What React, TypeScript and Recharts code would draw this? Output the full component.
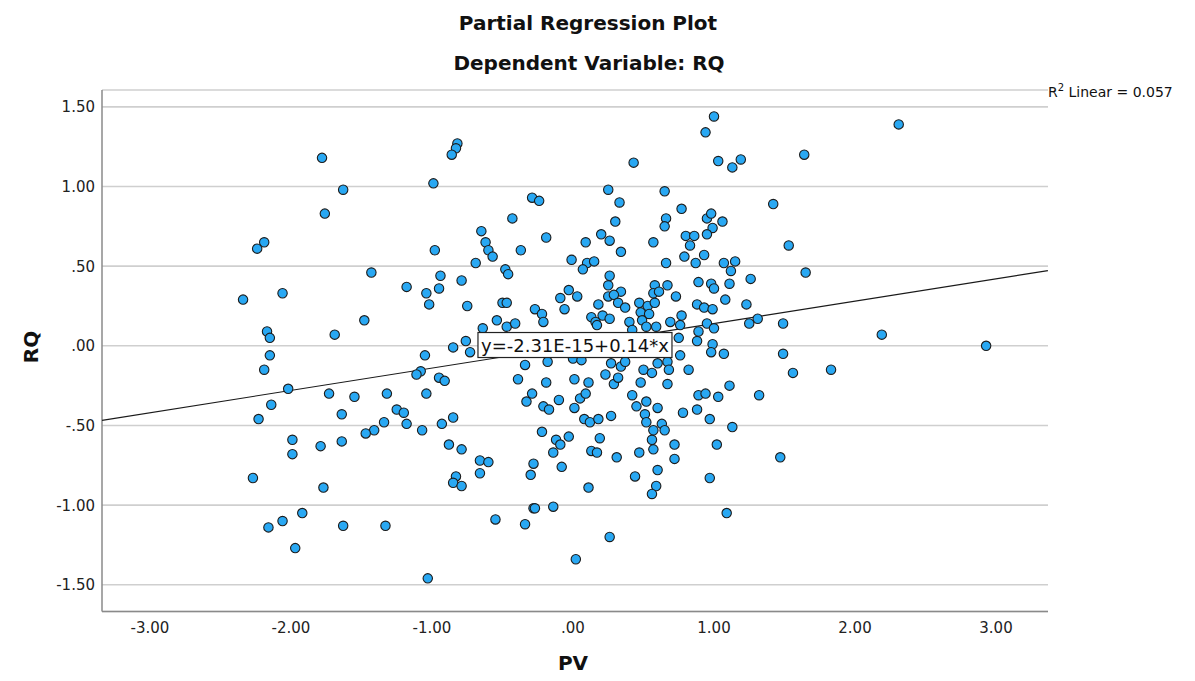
import React from "react";
import { ScatterChart, Scatter, XAxis, YAxis, CartesianGrid } from "recharts";

// PV (x) and RQ (y) partial residuals
const pvValues = [
  -1.78, -1.63, -1.76, -2.19, -2.24, -2.34, -2.06, -2.17, -2.15, -1.69,
  -2.15, -2.19, -2.02, -1.73, -2.14, -2.23, -1.64, -1.99, -1.99, -1.79,
  -1.64, -2.27, -1.77, -1.92, -2.06, -2.16, -1.97, -1.63, -0.82, -0.83,
  -0.86, -0.99, -0.65, -0.62, -0.60, -0.57, -0.98, -0.69, -0.48, -0.46,
  -1.43, -1.18, -0.94, -0.95, -1.04, -1.02, -0.79, -0.75, -0.50, -0.47,
  -1.48, -0.54, -0.64, -0.76, -0.85, -0.73, -1.05, -1.08, -1.11, -0.95,
  -0.91, -1.55, -1.32, -1.04, -1.25, -1.20, -1.34, -1.18, -1.41, -1.47,
  -1.07, -0.93, -0.85, -0.88, -0.79, -0.66, -0.60, -0.66, -0.83, -0.85,
  -0.79, -1.33, -0.55, -1.03, 0.43, 0.25, 0.33, -0.29, -0.24, 0.30,
  -0.43, -0.19, 0.20, 0.26, 0.09, -0.37, 0.34, -0.01, 0.10, 0.15,
  0.07, 0.26, 0.25, 0.34, -0.03, 0.03, -0.09, 0.25, 0.29, 0.32,
  0.37, 0.18, -0.06, -0.27, -0.22, -0.21, 0.47, 0.48, 0.49, 0.13,
  0.21, 0.26, 0.16, 0.17, 0.40, 0.42, -0.47, -0.41, -0.34, -0.18,
  0.00, 0.06, 0.23, 0.27, 0.34, 0.37, 0.50, 0.29, 0.32, -0.39,
  -0.19, 0.01, 0.11, -0.29, -0.33, -0.21, -0.17, -0.10, 0.05, 0.09,
  0.01, 0.42, 0.45, 0.48, 0.08, 0.12, 0.18, 0.27, 0.51, 0.52,
  -0.22, -0.12, -0.09, -0.03, 0.19, -0.14, 0.13, 0.17, 0.31, 0.47,
  -0.28, -0.30, -0.08, 0.11, 0.44, -0.28, -0.27, -0.14, -0.34, 0.26,
  0.02, 1.00, 0.94, 1.03, 1.13, 1.19, 0.65, 1.42, 0.77, 0.66,
  0.65, 0.95, 0.98, 1.06, 0.99, 0.95, 0.80, 0.86, 0.83, 0.57,
  0.79, 0.87, 0.93, 0.66, 1.07, 1.15, 1.12, 1.26, 1.53, 0.58,
  0.67, 0.57, 0.61, 0.89, 0.98, 1.00, 1.11, 0.73, 0.53, 0.58,
  0.54, 0.88, 0.93, 0.99, 1.08, 1.23, 0.77, 0.69, 0.76, 0.95,
  1.00, 1.25, 1.31, 1.49, 0.52, 0.59, 0.89, 0.75, 0.88, 0.99,
  0.98, 1.07, 0.76, 1.49, 0.60, 0.67, 0.56, 0.68, 0.82, 0.67,
  1.11, 0.89, 0.94, 1.03, 1.32, 0.52, 0.60, 0.78, 0.88, 0.97,
  0.63, 0.65, 0.57, 1.13, 0.56, 0.57, 0.72, 0.72, 1.02, 1.47,
  0.60, 0.59, 0.56, 0.97, 1.09, 2.31, 1.64, 1.65, 2.19, 2.93,
  1.56, 1.83,
];

const rqValues = [
  1.18, 0.98, 0.83, 0.65, 0.61, 0.29, 0.33, 0.09, 0.05, 0.07,
  -0.06, -0.15, -0.27, -0.30, -0.37, -0.46, -0.43, -0.59, -0.68, -0.63,
  -0.60, -0.83, -0.89, -1.05, -1.10, -1.14, -1.27, -1.13, 1.27, 1.24,
  1.20, 1.02, 0.72, 0.65, 0.60, 0.56, 0.60, 0.52, 0.48, 0.45,
  0.46, 0.37, 0.44, 0.36, 0.33, 0.26, 0.41, 0.25, 0.27, 0.27,
  0.16, 0.16, 0.11, 0.03, -0.01, -0.04, -0.06, -0.16, -0.18, -0.20,
  -0.22, -0.32, -0.30, -0.30, -0.40, -0.42, -0.48, -0.49, -0.53, -0.55,
  -0.53, -0.49, -0.45, -0.62, -0.65, -0.72, -0.73, -0.80, -0.82, -0.86,
  -0.88, -1.13, -1.09, -1.46, 1.15, 0.98, 0.90, 0.93, 0.91, 0.78,
  0.80, 0.68, 0.70, 0.66, 0.65, 0.60, 0.59, 0.54, 0.52, 0.53,
  0.48, 0.44, 0.38, 0.34, 0.35, 0.31, 0.30, 0.31, 0.32, 0.27,
  0.24, 0.26, 0.23, 0.23, 0.20, 0.15, 0.27, 0.21, 0.16, 0.18,
  0.19, 0.17, 0.15, 0.13, 0.15, 0.10, 0.12, 0.14, -0.12, -0.10,
  -0.08, -0.09, -0.18, -0.11, -0.13, -0.10, -0.15, -0.24, -0.20, -0.21,
  -0.23, -0.21, -0.23, -0.30, -0.35, -0.38, -0.40, -0.34, -0.33, -0.30,
  -0.39, -0.31, -0.38, -0.23, -0.46, -0.48, -0.46, -0.44, -0.43, -0.48,
  -0.54, -0.59, -0.62, -0.57, -0.58, -0.67, -0.66, -0.67, -0.70, -0.67,
  -0.74, -0.81, -0.76, -0.89, -0.82, -1.02, -1.02, -1.01, -1.12, -1.20,
  -1.34, 1.44, 1.34, 1.16, 1.12, 1.17, 0.97, 0.89, 0.86, 0.80,
  0.75, 0.80, 0.83, 0.78, 0.74, 0.70, 0.69, 0.69, 0.63, 0.65,
  0.56, 0.52, 0.57, 0.52, 0.52, 0.53, 0.47, 0.42, 0.63, 0.38,
  0.38, 0.33, 0.34, 0.40, 0.39, 0.36, 0.39, 0.31, 0.25, 0.27,
  0.20, 0.26, 0.24, 0.23, 0.29, 0.26, 0.19, 0.15, 0.13, 0.14,
  0.11, 0.14, 0.17, 0.14, 0.12, 0.12, 0.09, 0.05, 0.03, 0.01,
  -0.04, -0.05, -0.06, -0.05, -0.11, -0.10, -0.17, -0.15, -0.15, -0.24,
  -0.25, -0.31, -0.30, -0.32, -0.31, -0.35, -0.39, -0.42, -0.40, -0.46,
  -0.49, -0.53, -0.53, -0.51, -0.59, -0.65, -0.62, -0.71, -0.62, -0.70,
  -0.78, -0.88, -0.93, -0.83, -1.05, 1.39, 1.20, 0.46, 0.07, 0.00,
  -0.17, -0.15,
];

// Fit line end points (y = -2.31E-15 + 0.14*x) at the plot edges
const fitX = [-3.34, 3.368];
const fitY = [-0.468, 0.472];

// Equation label anchor (data coordinates)
const labelX = [0.014];
const labelY = [0.005];

const xTicks = [-3, -2, -1, 0, 1, 2, 3];
const yTicks = [-1.5, -1, -0.5, 0, 0.5, 1, 1.5];
const xDomain = [-3.3404, 3.3688];
const yDomain = [-1.668, 1.606];

const equationText = "y=-2.31E-15+0.14*x";
const r2Text = " Linear = 0.057";

const points = pvValues.map((x, i) => ({ x, y: rqValues[i] }));
const fitData = fitX.map((x, i) => ({ x, y: fitY[i] }));
const labelData = labelX.map((x, i) => ({ x, y: labelY[i] }));

const FONT = "'DejaVu Sans', sans-serif";

function fmt(v: number): string {
  const s = Math.abs(v).toFixed(2);
  const t = s.startsWith("0") ? s.slice(1) : s;
  return (v < 0 ? "-" : "") + t;
}

const XTick = (props: any) => {
  const { x, y, payload } = props;
  return (
    <text x={x} y={y + 21.5} textAnchor="middle" fontFamily={FONT} fontSize={15} fill="#222">
      {fmt(payload.value)}
    </text>
  );
};

const YTick = (props: any) => {
  const { x, y, payload } = props;
  return (
    <text x={x - 7} y={y + 5.5} textAnchor="end" fontFamily={FONT} fontSize={15} fill="#222">
      {fmt(payload.value)}
    </text>
  );
};

const Dot = (props: any) => {
  const { cx, cy } = props;
  return <circle cx={cx} cy={cy} r={4.7} fill="#29A8F3" stroke="#1c1c1c" strokeWidth={1.1} />;
};

const EquationBox = (props: any) => {
  const { cx, cy } = props;
  return (
    <g>
      <rect x={cx - 97} y={cy - 12.5} width={194} height={25} fill="#ffffff" stroke="#222" strokeWidth={1.2} />
      <text x={cx} y={cy + 6.5} textAnchor="middle" fontFamily={FONT} fontSize={18} fill="#111">
        {equationText}
      </text>
    </g>
  );
};

const NoShape = () => <g />;

export default function App() {
  return (
    <div style={{ position: "absolute", left: 0, top: 0, width: 1195, height: 681, background: "#fff" }}>
      <ScatterChart width={1195} height={681} margin={{ top: 90, right: 147, left: 0, bottom: 0 }}>
        <CartesianGrid vertical={false} stroke="#cfcfcf" strokeWidth={1.6} />
        <XAxis
          type="number"
          dataKey="x"
          domain={xDomain}
          ticks={xTicks}
          interval={0}
          allowDataOverflow
          tickLine={false}
          tickSize={0}
          tickMargin={0}
          height={69.5}
          axisLine={{ stroke: "#8a8a8a", strokeWidth: 1.5 }}
          tick={<XTick />}
        />
        <YAxis
          type="number"
          dataKey="y"
          domain={yDomain}
          ticks={yTicks}
          interval={0}
          allowDataOverflow
          tickLine={false}
          tickSize={0}
          tickMargin={0}
          width={102}
          axisLine={{ stroke: "#8a8a8a", strokeWidth: 1.5 }}
          tick={<YTick />}
        />
        <Scatter
          data={fitData}
          line={{ stroke: "#1a1a1a", strokeWidth: 1.1 }}
          shape={<NoShape />}
          isAnimationActive={false}
        />
        <Scatter data={points} shape={<Dot />} isAnimationActive={false} />
        <Scatter data={labelData} shape={<EquationBox />} isAnimationActive={false} />
      </ScatterChart>
      <svg
        width={1195}
        height={681}
        style={{ position: "absolute", left: 0, top: 0, pointerEvents: "none" }}
      >
        <text x={588} y={30} textAnchor="middle" fontFamily={FONT} fontWeight="bold" fontSize={20} fill="#111">
          Partial Regression Plot
        </text>
        <text x={589} y={70} textAnchor="middle" fontFamily={FONT} fontWeight="bold" fontSize={20} fill="#111">
          Dependent Variable: RQ
        </text>
        <text
          x={38}
          y={347}
          textAnchor="middle"
          transform="rotate(-90 38 347)"
          fontFamily={FONT}
          fontWeight="bold"
          fontSize={20}
          fill="#111"
        >
          RQ
        </text>
        <text x={573} y={670} textAnchor="middle" fontFamily={FONT} fontWeight="bold" fontSize={20} fill="#111">
          PV
        </text>
        <text x={1048} y={97} fontFamily={FONT} fontSize={14} fill="#111">
          R<tspan fontSize={10} dy={-6}>2</tspan>
          <tspan dy={6}>{r2Text}</tspan>
        </text>
      </svg>
    </div>
  );
}
